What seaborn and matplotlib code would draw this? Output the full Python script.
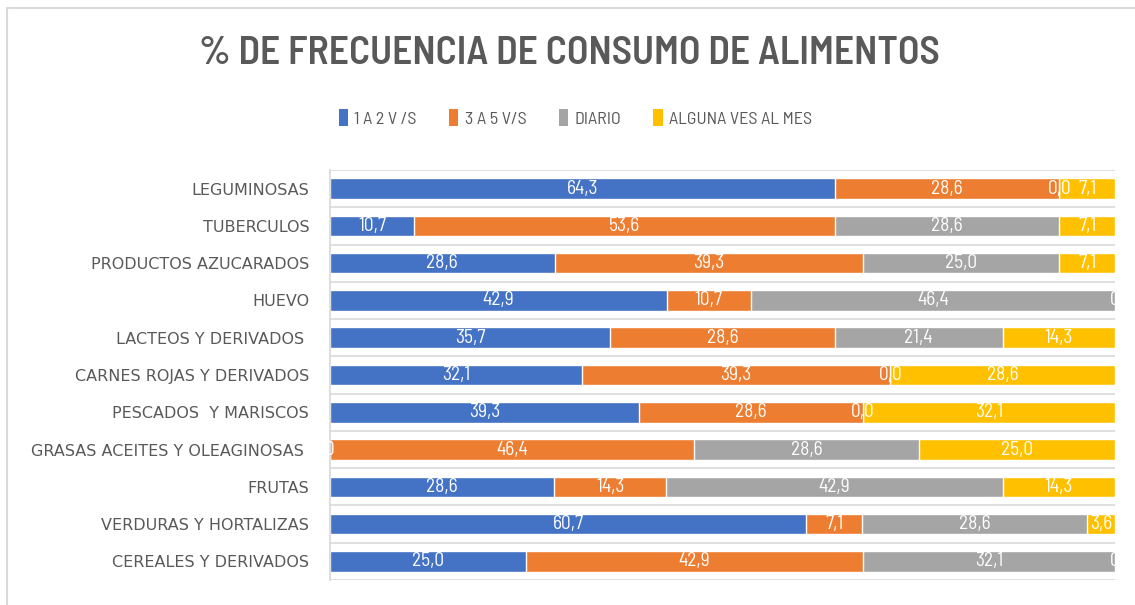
"""100% stacked bar chart: frecuencia de consumo de alimentos."""

import matplotlib
matplotlib.use("Agg")
import matplotlib.pyplot as plt
from matplotlib.patches import Patch, Rectangle
import numpy as np
import pandas as pd
import seaborn as sns

categories = [
    "LEGUMINOSAS",
    "TUBERCULOS",
    "PRODUCTOS AZUCARADOS",
    "HUEVO",
    "LACTEOS Y DERIVADOS ",
    "CARNES ROJAS Y DERIVADOS",
    "PESCADOS  Y MARISCOS",
    "GRASAS ACEITES Y OLEAGINOSAS ",
    "FRUTAS",
    "VERDURAS Y HORTALIZAS",
    "CEREALES Y DERIVADOS",
]
series_names = ["1 A 2 V /S", "3 A 5 V/S", "DIARIO", "ALGUNA VES AL MES"]
# an int 0 is shown as "0", a float 0.0 as "0,0" (as in the original sheet)
uno_a_dos = [64.3, 10.7, 28.6, 42.9, 35.7, 32.1, 39.3, 0, 28.6, 60.7, 25.0]
tres_a_cinco = [28.6, 53.6, 39.3, 10.7, 28.6, 39.3, 28.6, 46.4, 14.3, 7.1, 42.9]
diario = [0.0, 28.6, 25.0, 46.4, 21.4, 0.0, 0.0, 28.6, 42.9, 28.6, 32.1]
alguna_vez = [7.1, 7.1, 7.1, 0, 14.3, 28.6, 32.1, 25.0, 14.3, 3.6, 0]

colors = ["#4472C4", "#ED7D31", "#A5A5A5", "#FFC000"]
TEXT_GRAY = "#595959"
LINE_GRAY = "#D9D9D9"

sns.set_theme(style="white")
plt.rcParams["font.family"] = ["DejaVu Sans"]
narrow = ["Barlow Semi Condensed", "DejaVu Sans"]

series = [uno_a_dos, tres_a_cinco, diario, alguna_vez]
raw = np.array(series, dtype=float)
pct = raw / raw.sum(axis=0) * 100
cum = np.cumsum(pct, axis=0)

df = pd.DataFrame({"cat": categories})
for i in range(4):
    df[f"c{i}"] = cum[i]

fig = plt.figure(figsize=(11.35, 6.05), dpi=100)
ax = fig.add_axes([330 / 1135, 1 - 580 / 605, 785 / 1135, 410 / 605])

# draw cumulative layers from the widest down so segments stack visually
for i in range(3, -1, -1):
    sns.barplot(data=df, x=f"c{i}", y="cat", color=colors[i], saturation=1,
                width=0.55, orient="h", errorbar=None, ax=ax, zorder=2)

for i, vals in enumerate(series):
    starts = cum[i] - pct[i]
    for j, v in enumerate(vals):
        label = "0" if isinstance(v, int) else f"{v:.1f}".replace(".", ",")
        ax.text(starts[j] + pct[i][j] / 2, j, label, ha="center", va="center",
                color="white", fontsize=14, family=narrow, zorder=5)

ax.set_xlim(0, 100)
ax.set_ylim(len(categories) - 0.5, -0.5)
ax.set_xticks([])
ax.set_xlabel("")
ax.set_ylabel("")
ax.set_yticks(np.arange(-0.5, len(categories)), minor=True)
ax.grid(which="minor", axis="y", color=LINE_GRAY, linewidth=1.2, zorder=0)
ax.tick_params(axis="y", which="both", length=0, pad=15, labelsize=11.5,
               labelcolor=TEXT_GRAY)
for side in ["top", "right", "bottom"]:
    ax.spines[side].set_visible(False)
ax.spines["left"].set_color(LINE_GRAY)

fig.text(0.502, 1 - 54 / 605, "% DE FRECUENCIA DE CONSUMO DE ALIMENTOS",
         ha="center", va="center", fontsize=28.5, fontweight="semibold",
         family=narrow, color=TEXT_GRAY)

handles = [Patch(facecolor=c, edgecolor="none") for c in colors]
fig.legend(handles, series_names, loc="center", ncol=4,
           bbox_to_anchor=(0.507, 1 - 118 / 605), frameon=False,
           handlelength=0.5, handleheight=1.0, handletextpad=0.35,
           columnspacing=1.8, prop={"family": narrow, "size": 13},
           labelcolor=TEXT_GRAY)

fig.patches.append(Rectangle((7 / 1135, -0.1), 1.2, 1.1 - 8 / 605,
                             transform=fig.transFigure, fill=False,
                             edgecolor=LINE_GRAY, linewidth=1.5))

fig.savefig("out.png", dpi=100)
